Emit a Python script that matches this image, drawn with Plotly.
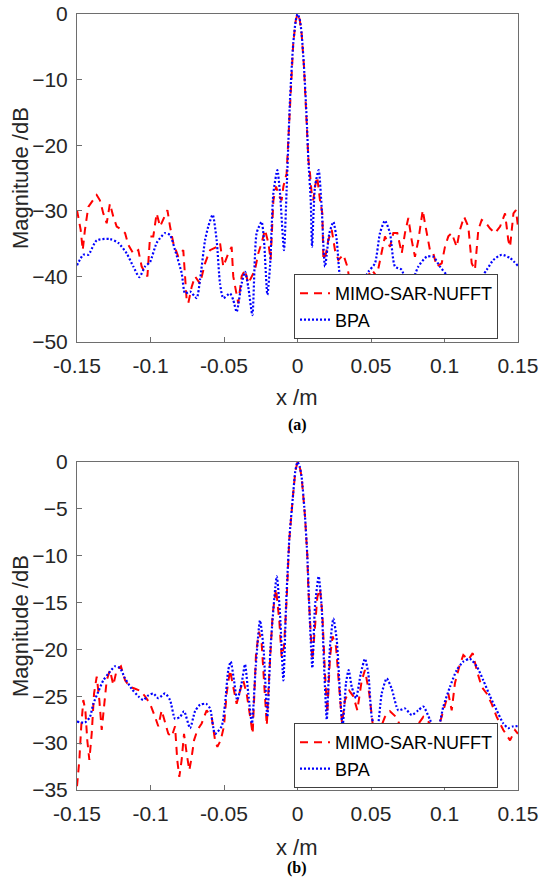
import plotly.graph_objects as go

# ---------------- data (a) ----------------
a_x_nufft = [-0.15, -0.1475, -0.1461, -0.1446, -0.1423, -0.1389, -0.1366, -0.1344, -0.1321, -0.1298,
             -0.1276, -0.1253, -0.1230, -0.1196, -0.1173, -0.1151, -0.1117, -0.1083, -0.1060, -0.1021,
             -0.1003, -0.0981, -0.0958, -0.0935, -0.0913, -0.0885, -0.0867, -0.0845, -0.0811, -0.0777,
             -0.0754, -0.0743, -0.0720, -0.0697, -0.0663, -0.0629, -0.0595, -0.0550, -0.0527, -0.0505,
             -0.0471, -0.0448, -0.0437, -0.0403, -0.0380, -0.0357, -0.0335, -0.0312, -0.0289, -0.0267,
             -0.0244, -0.0221, -0.0198, -0.0183, -0.0164, -0.0146, -0.0124, -0.0108, -0.0096, -0.0074,
             -0.0051, -0.0029, -0.0012, 0.0, 0.0015, 0.0028, 0.0044, 0.0062, 0.0074, 0.0085,
             0.0096, 0.0107, 0.0119, 0.0134, 0.0153, 0.0169, 0.0176, 0.0194, 0.0209, 0.0233,
             0.0255, 0.0278, 0.0312, 0.0339, 0.0369, 0.0448, 0.0505, 0.0539, 0.0573, 0.0595,
             0.0629, 0.0652, 0.0679, 0.0709, 0.0731, 0.0754, 0.0777, 0.0799, 0.0822, 0.0852,
             0.0867, 0.0901, 0.0924, 0.0947, 0.0981, 0.1003, 0.1026, 0.1049, 0.1083, 0.1105,
             0.1133, 0.1162, 0.1185, 0.1207, 0.1230, 0.1253, 0.1276, 0.1310, 0.1344, 0.1378,
             0.1412, 0.1434, 0.1446, 0.1469, 0.1486, 0.15]
a_db_nufft = [-29.9, -32.9, -36.0, -32.9, -29.4, -28.4, -27.6, -28.4, -30.4, -31.9,
              -28.9, -30.9, -32.4, -32.9, -33.4, -35.2, -36.5, -36.0, -38.5, -40.0,
              -33.9, -33.9, -30.4, -32.4, -31.4, -29.9, -32.4, -34.9, -37.0, -36.0,
              -43.6, -44.1, -41.6, -40.0, -41.1, -38.0, -36.0, -35.5, -34.9, -38.5,
              -36.5, -35.5, -40.0, -44.1, -40.0, -39.0, -41.1, -40.0, -39.0, -36.5,
              -34.9, -32.9, -34.9, -37.5, -28.4, -26.3, -27.8, -28.4, -26.3, -24.3,
              -13.1, -4.5, -1.0, 0.0, -0.8, -3.0, -8.0, -15.7, -22.2, -24.3,
              -27.3, -28.4, -26.3, -24.8, -28.4, -30.4, -37.5, -36.5, -34.5, -32.9,
              -36.0, -37.5, -36.7, -38.5, -42.6, -41.1, -39.0, -40.0, -36.0, -33.9,
              -35.5, -33.4, -33.4, -36.5, -33.4, -31.1, -34.5, -37.0, -34.5, -29.9,
              -31.9, -36.0, -36.5, -38.5, -38.0, -35.5, -33.9, -33.4, -35.5, -32.9,
              -30.9, -32.4, -38.0, -39.0, -32.9, -31.4, -31.7, -32.7, -33.4, -32.4,
              -30.4, -34.5, -35.5, -30.4, -29.9, -32.4]

a_x_bpa = [-0.15, -0.1457, -0.1423, -0.1366, -0.1276, -0.1219, -0.1162, -0.1117, -0.1076, -0.1037,
           -0.1003, -0.0958, -0.0901, -0.0867, -0.0833, -0.0788, -0.0765, -0.0731, -0.0686, -0.0663,
           -0.0629, -0.0607, -0.0577, -0.0550, -0.0527, -0.0505, -0.0459, -0.0437, -0.0414, -0.0380,
           -0.0357, -0.0335, -0.0307, -0.0278, -0.0244, -0.0228, -0.0205, -0.0187, -0.0164, -0.0137,
           -0.0119, -0.0092, -0.0074, -0.0051, -0.0029, -0.0012, 0.0, 0.0015, 0.0028, 0.0044,
           0.0062, 0.0074, 0.0090, 0.0099, 0.0119, 0.0144, 0.0164, 0.0187, 0.0217, 0.0244,
           0.0267, 0.0289, 0.0335, 0.0403, 0.0482, 0.0527, 0.0561, 0.0595, 0.0629, 0.0663,
           0.0709, 0.0754, 0.0822, 0.0879, 0.0924, 0.0969, 0.1015, 0.1083, 0.1196, 0.1287,
           0.1332, 0.1389, 0.1446, 0.15]
a_db_bpa = [-38.3, -36.7, -36.7, -34.5, -34.3, -34.9, -36.5, -38.5, -40.1, -38.5,
            -37.8, -34.9, -33.4, -33.7, -36.0, -39.5, -42.6, -42.3, -43.3, -40.5,
            -34.5, -32.4, -30.6, -34.5, -41.1, -43.3, -42.6, -43.6, -45.4, -41.1,
            -39.3, -41.6, -45.9, -33.4, -31.7, -34.5, -42.8, -38.5, -27.3, -23.8,
            -27.3, -36.0, -26.8, -13.1, -4.5, -1.0, 0.0, -0.8, -3.0, -8.0,
            -15.7, -22.3, -28.4, -35.5, -26.3, -23.8, -29.4, -38.5, -33.4, -31.7,
            -34.5, -40.1, -43.6, -42.6, -39.3, -38.0, -33.4, -31.5, -33.4, -38.5,
            -39.0, -42.1, -38.5, -37.0, -37.0, -38.5, -39.8, -42.0, -41.6, -39.0,
            -37.5, -36.7, -37.2, -38.4]

# ---------------- data (b) ----------------
b_x_nufft = [-0.15, -0.1484, -0.1471, -0.1457, -0.1443, -0.1430, -0.1416, -0.1400, -0.1384, -0.1366,
             -0.1348, -0.1332, -0.1316, -0.1298, -0.1276, -0.1253, -0.1230, -0.1201, -0.1173, -0.1139,
             -0.1105, -0.1071, -0.1037, -0.1003, -0.0969, -0.0947, -0.0924, -0.0901, -0.0879, -0.0856,
             -0.0833, -0.0818, -0.0804, -0.0788, -0.0772, -0.0754, -0.0736, -0.0720, -0.0704, -0.0681,
             -0.0652, -0.0618, -0.0584, -0.0561, -0.0545, -0.0523, -0.0500, -0.0482, -0.0459, -0.0437,
             -0.0414, -0.0391, -0.0369, -0.0346, -0.0323, -0.0305, -0.0282, -0.0262, -0.0244, -0.0226,
             -0.0209, -0.0192, -0.0169, -0.0146, -0.0124, -0.0108, -0.0092, -0.0074, -0.0056, -0.0029,
             -0.0015, 0.0, 0.0015, 0.0028, 0.0051, 0.0067, 0.0074, 0.0090, 0.0101, 0.0119,
             0.0135, 0.0153, 0.0169, 0.0187, 0.0203, 0.0221, 0.0239, 0.0262, 0.0285, 0.0303,
             0.0323, 0.0352, 0.0380, 0.0407, 0.0437, 0.0459, 0.0488, 0.0511, 0.0550, 0.0595,
             0.0629, 0.0670, 0.0714, 0.0811, 0.0856, 0.0901, 0.0947, 0.1003, 0.1026, 0.1049,
             0.1071, 0.1101, 0.1128, 0.1162, 0.1192, 0.1219, 0.1253, 0.1287, 0.1321, 0.1355,
             0.1400, 0.1446, 0.1480, 0.15]
b_db_nufft = [-34.6, -31.8, -28.2, -25.4, -26.5, -29.7, -31.8, -29.0, -24.7, -22.9,
              -25.4, -28.6, -26.1, -23.3, -22.2, -23.8, -22.2, -21.8, -23.3, -24.0,
              -24.2, -24.4, -25.0, -25.8, -27.2, -28.2, -26.5, -27.9, -29.0, -29.3,
              -28.2, -31.8, -33.6, -31.8, -29.0, -31.1, -32.9, -31.5, -29.7, -28.6,
              -27.9, -26.5, -27.2, -29.7, -30.4, -29.7, -28.2, -24.7, -22.2, -24.0,
              -25.8, -24.4, -23.3, -24.7, -27.2, -29.0, -20.4, -18.1, -19.3, -23.3,
              -28.1, -22.6, -16.2, -13.5, -16.9, -20.8, -19.7, -14.7, -8.3, -3.3,
              -1.0, 0.0, -0.5, -1.6, -5.8, -10.1, -13.7, -18.3, -21.1, -17.6,
              -14.4, -13.5, -16.2, -22.6, -26.8, -20.8, -18.6, -19.7, -24.7, -27.9,
              -25.4, -24.4, -25.0, -26.5, -23.3, -22.2, -24.7, -27.9, -29.0, -27.2,
              -26.6, -27.2, -28.6, -28.2, -27.2, -27.9, -29.0, -26.1, -24.7, -26.5,
              -23.6, -21.8, -20.6, -21.1, -20.4, -22.2, -24.0, -24.7, -25.8, -27.2,
              -28.6, -29.7, -28.6, -29.0]

b_x_bpa = [-0.15, -0.1446, -0.1412, -0.1389, -0.1355, -0.1321, -0.1287, -0.1241, -0.1207, -0.1173,
           -0.1128, -0.1083, -0.1049, -0.1015, -0.0981, -0.0947, -0.0901, -0.0867, -0.0833, -0.0799,
           -0.0772, -0.0731, -0.0697, -0.0663, -0.0622, -0.0595, -0.0561, -0.0516, -0.0493, -0.0471,
           -0.0454, -0.0432, -0.0410, -0.0380, -0.0357, -0.0335, -0.0310, -0.0284, -0.0255, -0.0232,
           -0.0205, -0.0183, -0.0141, -0.0119, -0.0096, -0.0078, -0.0056, -0.0029, -0.0015, 0.0,
           0.0015, 0.0028, 0.0051, 0.0067, 0.0080, 0.0092, 0.0101, 0.0119, 0.0144, 0.0164,
           0.0183, 0.0199, 0.0221, 0.0244, 0.0267, 0.0289, 0.0307, 0.0330, 0.0348, 0.0369,
           0.0398, 0.0430, 0.0459, 0.0482, 0.0505, 0.0539, 0.0573, 0.0607, 0.0641, 0.0686,
           0.0731, 0.0777, 0.0822, 0.0856, 0.0901, 0.0947, 0.0992, 0.1037, 0.1083, 0.1128,
           0.1173, 0.1219, 0.1264, 0.1310, 0.1355, 0.1400, 0.1434, 0.1469, 0.15]
b_db_bpa = [-27.7, -27.8, -27.2, -25.8, -24.5, -23.3, -22.6, -21.8, -22.0, -23.1,
            -24.2, -25.0, -25.4, -24.9, -24.7, -25.2, -24.7, -25.4, -27.4, -27.2,
            -26.6, -28.4, -26.6, -25.9, -25.8, -26.3, -29.0, -28.2, -25.8, -22.2,
            -21.3, -23.3, -25.4, -23.6, -21.6, -24.7, -27.9, -21.8, -16.9, -19.7,
            -27.2, -19.7, -12.2, -16.2, -23.3, -15.4, -8.3, -3.3, -1.0, 0.0,
            -0.5, -1.6, -5.8, -10.1, -15.4, -19.7, -22.0, -15.4, -12.2, -15.4,
            -22.6, -27.5, -19.7, -16.7, -19.0, -24.7, -28.2, -23.6, -22.2, -24.0,
            -25.2, -22.6, -21.0, -22.6, -27.2, -29.0, -24.7, -23.1, -24.2, -26.5,
            -26.3, -27.0, -26.5, -26.1, -27.5, -29.0, -26.1, -24.0, -22.2, -21.3,
            -21.0, -21.8, -23.3, -25.0, -26.5, -27.9, -28.4, -28.2, -28.2]

x_ticks = [-0.15, -0.1, -0.05, 0, 0.05, 0.1, 0.15]
x_tick_text = ["-0.15", "-0.1", "-0.05", "0", "0.05", "0.1", "0.15"]
a_y_ticks = [-50, -40, -30, -20, -10, 0]
b_y_ticks = [-35, -30, -25, -20, -15, -10, -5, 0]

# ---------------- layout geometry ----------------
W, H = 539, 881
ML, MR, MT, MB = 77, 21, 14, 91
PW, PH = W - ML - MR, H - MT - MB


def px_x(p):
    return (p - ML) / PW


def px_y(p):
    return (H - MB - p) / PH


RED = "#ff0000"
BLUE = "#0000ff"
FONT = "Liberation Sans, Arial, sans-serif"
AXC = "#6e6e6e"
TXT = "#262626"

fig = go.Figure()
fig.add_trace(go.Scatter(x=a_x_nufft, y=a_db_nufft, mode="lines", name="MIMO-SAR-NUFFT",
                         line=dict(color=RED, width=2, dash="8px,6px"), xaxis="x", yaxis="y",
                         legend="legend"))
fig.add_trace(go.Scatter(x=a_x_bpa, y=a_db_bpa, mode="lines", name="BPA",
                         line=dict(color=BLUE, width=2.2, dash="2px,2px", shape="spline", smoothing=0.6),
                         xaxis="x", yaxis="y", legend="legend"))
fig.add_trace(go.Scatter(x=b_x_nufft, y=b_db_nufft, mode="lines", name="MIMO-SAR-NUFFT",
                         line=dict(color=RED, width=2, dash="8px,6px"), xaxis="x2", yaxis="y2",
                         legend="legend2"))
fig.add_trace(go.Scatter(x=b_x_bpa, y=b_db_bpa, mode="lines", name="BPA",
                         line=dict(color=BLUE, width=2.2, dash="2px,2px", shape="spline", smoothing=0.6),
                         xaxis="x2", yaxis="y2", legend="legend2"))

top_lo = px_y(342)
bot_hi = px_y(462)

common_x = dict(range=[-0.15, 0.15], tickvals=x_ticks, ticktext=x_tick_text, showline=True,
                mirror=True, linecolor=AXC, linewidth=1, ticks="inside", ticklen=5, tickcolor=AXC,
                showgrid=False, zeroline=False, tickfont=dict(family=FONT, size=21, color=TXT),
                ticklabelstandoff=5, ticklabeloverflow="allow")
common_y = dict(showline=True, mirror=True, linecolor=AXC, linewidth=1, ticks="inside", ticklen=5,
                tickcolor=AXC, showgrid=False, zeroline=False,
                tickfont=dict(family=FONT, size=21, color=TXT), ticklabelstandoff=4)

leg_common = dict(xanchor="left", yanchor="top", bgcolor="white", bordercolor="#404040",
                  borderwidth=1, font=dict(family=FONT, size=18, color="#000000"), tracegroupgap=0)

fig.update_layout(
    width=W, height=H,
    margin=dict(l=ML, r=MR, t=MT, b=MB, autoexpand=False),
    paper_bgcolor="white", plot_bgcolor="white",
    xaxis=dict(domain=[0, 1], anchor="y", **common_x),
    yaxis=dict(domain=[top_lo, 1], anchor="x", range=[-50, 0], tickvals=a_y_ticks, **common_y),
    xaxis2=dict(domain=[0, 1], anchor="y2", **common_x),
    yaxis2=dict(domain=[0, bot_hi], anchor="x2", range=[-35, 0], tickvals=b_y_ticks, **common_y),
    legend=dict(x=px_x(294), y=px_y(274), **leg_common),
    legend2=dict(x=px_x(294), y=px_y(723), **leg_common),
    showlegend=True,
)

annos = [
    dict(text="x /m", x=px_x(297), y=px_y(397)),
    dict(text="x /m", x=px_x(297), y=px_y(847)),
    dict(text="Magnitude /dB", x=px_x(20), y=px_y(178), textangle=-90),
    dict(text="Magnitude /dB", x=px_x(20), y=px_y(626), textangle=-90),
]
for a in annos:
    fig.add_annotation(xref="paper", yref="paper", showarrow=False, xanchor="center", yanchor="middle",
                       font=dict(family=FONT, size=22, color=TXT), **a)
for t, yy in (("<b>(a)</b>", 425), ("<b>(b)</b>", 868)):
    fig.add_annotation(xref="paper", yref="paper", showarrow=False, xanchor="center", yanchor="middle",
                       text=t, x=px_x(297), y=px_y(yy),
                       font=dict(family="Liberation Serif, Times New Roman, serif", size=16, color="#000000"))

fig.write_html("out.html", config={"displayModeBar": False},
               post_script="document.body.style.margin='0';")
